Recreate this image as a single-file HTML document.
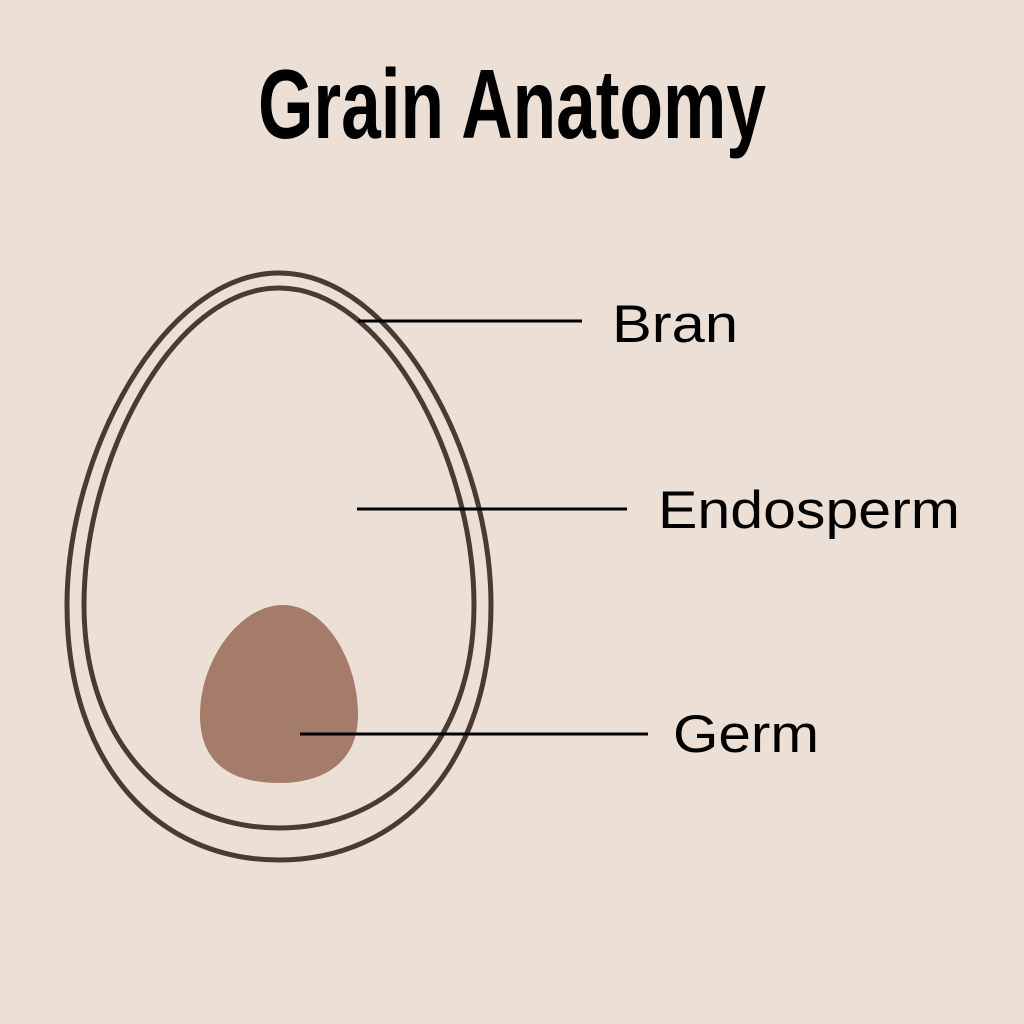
<!DOCTYPE html>
<html><head><style>
html,body{margin:0;padding:0;}
body{width:1024px;height:1024px;background:#ebdfd6;overflow:hidden;position:relative;}
</style></head><body>
<svg width="1024" height="1024" style="position:absolute;left:0;top:0">
<path d="M279,273 C395,273 491,455 491,605 C491,765 400,860 279,860 C158,860 67,765 67,605 C67,455 163,273 279,273 Z" fill="none" stroke="#4a3a33" stroke-width="5"/>
<path d="M279,288 C385,288 474,460 474,605 C474,742 390,828 279,828 C168,828 84,742 84,605 C84,460 173,288 279,288 Z" fill="none" stroke="#4a3a33" stroke-width="5"/>
<path d="M283,605 C325,605 358,660 358,715 C358,765 320,783 280,783 C240,783 200,770 200,715 C200,660 240,605 283,605Z" fill="#a47c69"/>
<line x1="358" y1="321" x2="582" y2="321" stroke="#000" stroke-width="3"/>
<line x1="357" y1="509" x2="627" y2="509" stroke="#000" stroke-width="3"/>
<line x1="300" y1="734" x2="648" y2="734" stroke="#000" stroke-width="3"/>
<text x="512" y="138" text-anchor="middle" font-family="Liberation Sans, sans-serif" font-weight="bold" font-size="98" textLength="508" lengthAdjust="spacingAndGlyphs">Grain Anatomy</text>
<text x="612" y="342" font-family="Liberation Sans, sans-serif" font-size="53" textLength="126" lengthAdjust="spacingAndGlyphs">Bran</text>
<text x="658" y="528" font-family="Liberation Sans, sans-serif" font-size="53" textLength="302" lengthAdjust="spacingAndGlyphs">Endosperm</text>
<text x="673" y="752" font-family="Liberation Sans, sans-serif" font-size="53" textLength="146" lengthAdjust="spacingAndGlyphs">Germ</text>
</svg>
</body></html>
